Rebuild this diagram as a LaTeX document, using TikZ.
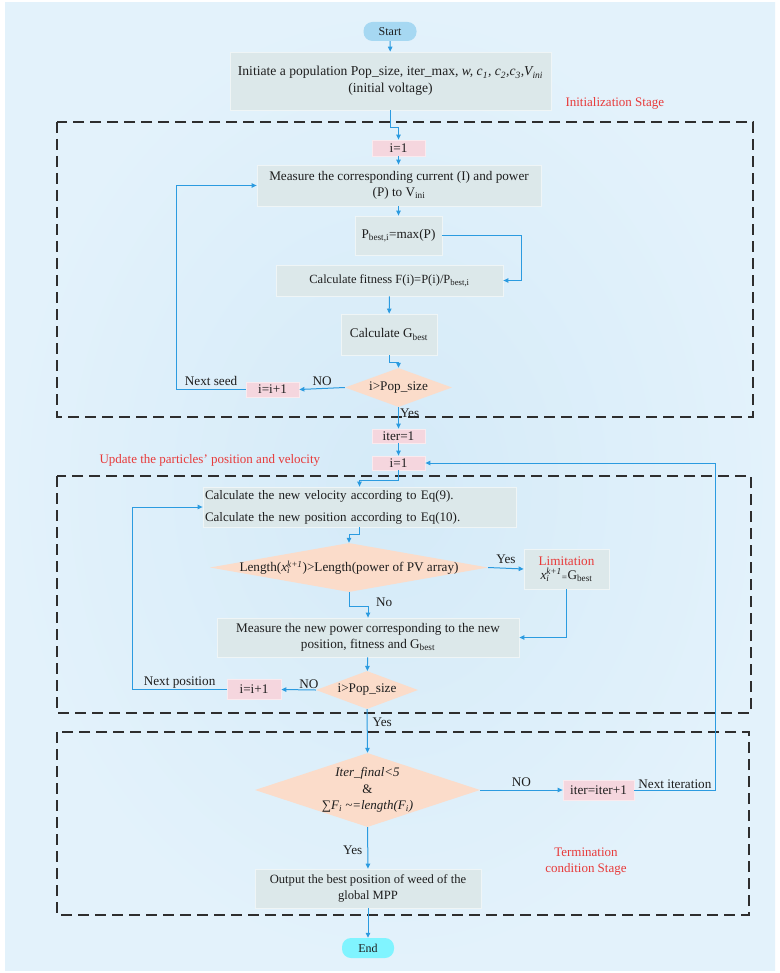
\documentclass[tikz,border=0pt]{standalone}
\usepackage{fontspec}
\setmainfont{Liberation Serif}
\usetikzlibrary{shapes.geometric,arrows.meta}
\definecolor{panelin}{RGB}{212,234,248}
\definecolor{panelout}{RGB}{227,242,251}
\definecolor{procfill}{RGB}{220,232,234}
\definecolor{pinkfill}{RGB}{245,214,222}
\definecolor{peachfill}{RGB}{251,220,202}
\definecolor{startfill}{RGB}{166,216,242}
\definecolor{endfill}{RGB}{128,244,255}
\definecolor{flow}{RGB}{43,155,224}
\definecolor{stage}{RGB}{232,58,58}
\definecolor{frame}{RGB}{46,46,46}
\definecolor{ink}{RGB}{30,30,30}
\tikzset{
  txt/.style={font=\fontsize{13.2}{16}\selectfont, text=ink},
  proc/.style={txt, rectangle, draw=white!55!procfill, fill=procfill, line width=0.8pt, inner sep=0pt, align=center},
  pinkbox/.style={txt, rectangle, draw=white!50!pinkfill, fill=pinkfill, line width=0.8pt, inner sep=0pt},
  decide/.style={diamond, fill=peachfill, draw=none, inner sep=0pt},
  term/.style={txt, rectangle, rounded corners=9pt, inner sep=0pt},
  arr/.style={draw=flow, line width=1pt, -{Triangle[length=5pt,width=4.5pt]}},
  stagebox/.style={draw=frame, line width=1.8pt, dash pattern=on 11pt off 6pt},
  redtxt/.style={font=\fontsize{13}{16}\selectfont, text=stage},
  lbl/.style={txt, inner sep=0pt}
}
\begin{document}
\begin{tikzpicture}[x=1pt,y=-1pt]
\useasboundingbox (0,0) rectangle (779,973);
\fill[white] (0,0) rectangle (779,973);
\shade[inner color=panelin, outer color=panelout] (5,3) rectangle (775,970);

% stage frames
\draw[stagebox] (57,122) rectangle (753,417);
\draw[stagebox] (57,476) rectangle (751,713);
\draw[stagebox] (57,732) rectangle (749,915);

% initialization stage
\node[term, fill=startfill, minimum width=53pt, minimum height=19pt, font=\fontsize{12}{14}\selectfont] (start) at (390,31.5) {Start};
\node[proc, minimum width=321pt, minimum height=58pt, font=\fontsize{13.6}{16.5}\selectfont] (init) at (390.5,81)
  {Initiate a population Pop\_size, iter\_max, \textit{w, c\textsubscript{1}, c\textsubscript{2},c\textsubscript{3},V\textsubscript{ini}}\\(initial voltage)};
\node[pinkbox, minimum width=53pt, minimum height=16pt] (i1) at (398.5,148) {i=1};
\node[proc, minimum width=284pt, minimum height=41pt] (meas) at (399,185.5)
  {Measure the corresponding current (I) and power\\(P) to V\textsubscript{ini}};
\node[proc, minimum width=87pt, minimum height=39pt] (pbest) at (398.5,235.5) {P\textsubscript{best,i}=max(P)};
\node[proc, minimum width=227pt, minimum height=31pt, font=\fontsize{12.5}{15}\selectfont] (fit) at (389.5,280.5) {Calculate fitness F(i)=P(i)/P\textsubscript{best,i}};
\node[proc, minimum width=96pt, minimum height=41pt] (gbest) at (389,334.5) {Calculate G\textsubscript{best}};
\node[decide, minimum width=107pt, minimum height=39pt] (d1) at (398.5,387.5) {};
\node[txt] at (d1) {i>Pop\_size};
\node[pinkbox, minimum width=53pt, minimum height=15pt] (inc1) at (272.5,389.5) {i=i+1};

% update stage
\node[pinkbox, minimum width=53pt, minimum height=14pt] (iter1) at (398.5,436) {iter=1};
\node[pinkbox, minimum width=53pt, minimum height=14pt] (i1b) at (398.5,463) {i=1};
\node[proc, minimum width=313pt, minimum height=40pt, text width=309pt, align=left, font=\fontsize{13}{16}\selectfont] (vel) at (359.5,507)
  {Calculate the new velocity according to Eq(9).\\[6pt]Calculate the new position according to Eq(10).};
\node[decide, minimum width=278pt, minimum height=49pt] (d2) at (349,567.5) {};
\node[txt] at (d2) {Length(\textit{x}\rlap{\textsubscript{\textit{i}}}\textsuperscript{\textit{k+1}})>Length(power of PV array)};
\node[proc, minimum width=85pt, minimum height=40pt] (lim) at (566.5,569)
  {\textcolor{stage}{Limitation}\\[-2pt]\textit{x}\rlap{\textsubscript{\textit{i}}}\textsuperscript{\textit{k+1}}\textsubscript{=}G\textsubscript{best}};
\node[proc, minimum width=302pt, minimum height=39pt] (mnew) at (368,637.5)
  {Measure the new power corresponding to the new\\position, fitness and G\textsubscript{best}};
\node[decide, minimum width=102pt, minimum height=38pt] (d3) at (367,690) {};
\node[txt] at (d3) {i>Pop\_size};
\node[pinkbox, minimum width=54pt, minimum height=20pt] (inc2) at (254,689.5) {i=i+1};

% termination stage
\node[decide, minimum width=225pt, minimum height=74pt] (d4) at (367.5,790) {};
\node[txt, align=center, font=\fontsize{13}{16.5}\selectfont] at (d4) {\textit{Iter\_final<5}\\\&\\∑\textit{F\textsubscript{i} \textasciitilde=length(F\textsubscript{i})}};
\node[pinkbox, minimum width=71pt, minimum height=20pt] (iterinc) at (598.5,790) {iter=iter+1};
\node[proc, minimum width=226pt, minimum height=39pt, font=\fontsize{12.6}{15.5}\selectfont] (out) at (368,888.5)
  {Output the best position of weed of the\\global MPP};
\node[term, fill=endfill, minimum width=52pt, minimum height=20pt, font=\fontsize{12}{14}\selectfont] (end) at (368,948) {End};

% stage titles
\node[redtxt, anchor=west] (t1) at (562,103) {Initialization Stage};
\node[redtxt, anchor=west] (t2) at (96,460) {Update the particles’ position and velocity};
\node[redtxt, align=center] (t3) at (586,862) {Termination\\condition Stage};

% connectors
\draw[arr] (start) -- (init);
\draw[arr] (init.south) -- ++(0,17) -| (i1.north);
\draw[arr] (i1) -- (i1 |- meas.north);
\draw[arr] (meas.south -| pbest) -- (pbest.north);
\draw[arr] (pbest.east) -- ++(79,0) |- (fit.east);
\draw[arr] (fit) -- (gbest);
\draw[arr] (gbest.south) -- ++(0,7) -| (d1.north);
\draw[arr] (d1.west) -- (inc1.east) node[lbl, pos=0.5, above=2pt] {NO};
\draw[arr] (inc1.west) -- ++(-69,0) node[lbl, pos=0.5, above=3pt] {Next seed} |- (meas.west);
\draw[arr] (d1.south) -- (iter1.north) node[lbl, pos=0.3, right=1pt] {Yes};
\draw[arr] (iter1) -- (i1b);
\draw[arr] (i1b.south) -- ++(0,10) -| (vel.north);
\draw[arr] (vel.south) -- ++(0,7) -| (d2.north);
\draw[arr] (d2.east) -- (lim.west) node[lbl, pos=0.5, above=4pt] {Yes};
\draw[arr] (lim.south) |- (mnew.east);
\draw[arr] (d2.south) -- ++(0,14) -| (mnew.north);
\node[lbl, anchor=west] (nolbl) at (376,602) {No};
\draw[arr] (mnew) -- (d3);
\draw[arr] (d3.west) -- (inc2.east) node[lbl, pos=0.2, above=1pt] {NO};
\draw[arr] (inc2.west) -- ++(-94,0) node[lbl, pos=0.5, above=1pt] {Next position} |- (vel.west);
\draw[arr] (d3.south) -- (d4.north) node[lbl, pos=0.3, right=5pt] {Yes};
\draw[arr] (d4.east) -- (iterinc.west) node[lbl, pos=0.5, above=3pt] {NO};
\draw[arr] (iterinc.east) -- ++(81,0) node[lbl, pos=0.5, above=1pt] {Next iteration} |- (i1b.east);
\draw[arr] (d4.south) -- (out.north) node[lbl, pos=0.55, left=5pt] {Yes};
\draw[arr] (out) -- (end);
\end{tikzpicture}
\end{document}
